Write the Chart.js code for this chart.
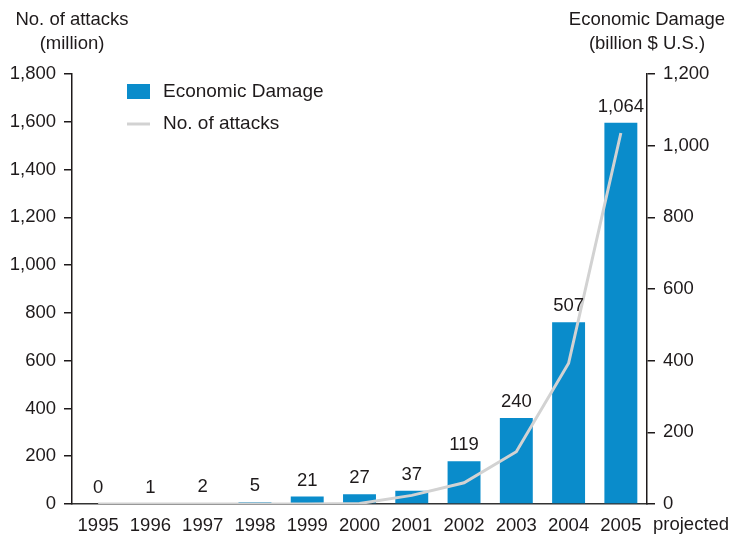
<!DOCTYPE html>
<html>
<head>
<meta charset="utf-8">
<script src="https://cdn.jsdelivr.net/npm/chart.js@4/dist/chart.umd.min.js"></script>
<style>
  html, body { margin: 0; padding: 0; background: #fff; }
  #wrap { width: 729px; height: 536px; position: relative; }
</style>
</head>
<body>
<div id="wrap"><canvas id="chart"></canvas></div>
<script>
const years = ['1995', '1996', '1997', '1998', '1999', '2000', '2001', '2002', '2003', '2004', '2005'];
// economic damage, billion $ U.S. (right axis)
const damage = [0, 1, 2, 5, 21, 27, 37, 119, 240, 507, 1064];
// number of attacks, million (left axis)
const attacks = [0, 0, 0, 0, 0, 2, 36, 89, 219, 589, 1553];
const leftTicks = [0, 200, 400, 600, 800, 1000, 1200, 1400, 1600, 1800];
const rightTicks = [0, 200, 400, 600, 800, 1000, 1200];

const FONT = '"Liberation Sans", Arial, Helvetica, sans-serif';
const INK = '#1e1a1b';
const BLUE = '#0a8ccb';
const GRAY = '#d2d2d2';
const SIZE = 18.5;

const fmt = v => Number(v).toLocaleString('en-US');

// titles, legend, value labels and the "projected" note
const decorations = {
  id: 'decorations',
  afterDraw(chart) {
    const ctx = chart.ctx;
    const area = chart.chartArea;
    ctx.save();
    ctx.font = '18.5px ' + FONT;
    ctx.fillStyle = INK;
    ctx.textAlign = 'center';
    ctx.textBaseline = 'middle';

    ctx.fillText('No. of attacks', area.left, 20);
    ctx.fillText('(million)', area.left, 44);
    ctx.fillText('Economic Damage', area.right, 20);
    ctx.fillText('(billion $ U.S.)', area.right, 44);

    ctx.font = SIZE + 'px ' + FONT;
    const bars = chart.getDatasetMeta(0).data;
    bars.forEach((bar, i) => {
      ctx.fillText(fmt(damage[i]), bar.x, bar.y - 16);
    });

    ctx.textAlign = 'left';
    ctx.fillText('projected', area.right + 6, 525);

    // legend
    ctx.font = '19px ' + FONT;
    ctx.fillStyle = BLUE;
    ctx.fillRect(127, 84, 23, 15);
    ctx.strokeStyle = GRAY;
    ctx.lineWidth = 3;
    ctx.beginPath();
    ctx.moveTo(127, 124);
    ctx.lineTo(150, 124);
    ctx.stroke();
    ctx.fillStyle = INK;
    ctx.fillText(chart.data.datasets[0].label, 163, 92);
    ctx.fillText(chart.data.datasets[1].label, 163, 124);
    ctx.restore();
  }
};

new Chart(document.getElementById('chart'), {
  data: {
    labels: years,
    datasets: [
      {
        type: 'bar',
        label: 'Economic Damage',
        data: damage,
        yAxisID: 'yRight',
        backgroundColor: BLUE,
        barPercentage: 0.63,
        categoryPercentage: 1,
        order: 2
      },
      {
        type: 'line',
        label: 'No. of attacks',
        data: attacks,
        yAxisID: 'yLeft',
        borderColor: GRAY,
        borderWidth: 3,
        pointRadius: 0,
        tension: 0,
        order: 1
      }
    ]
  },
  options: {
    responsive: true,
    maintainAspectRatio: false,
    animation: false,
    layout: { padding: { top: 74, left: 0, right: 0, bottom: 0 } },
    plugins: {
      legend: { display: false },
      tooltip: { enabled: false }
    },
    scales: {
      x: {
        grid: { display: false, drawTicks: false },
        border: { color: '#333', width: 1.5 },
        ticks: { color: INK, font: { family: FONT, size: SIZE }, padding: 11, maxRotation: 0, autoSkip: false },
        afterFit(scale) { scale.height = 32; }
      },
      yLeft: {
        position: 'left',
        min: 0,
        max: 1800,
        afterBuildTicks(scale) { scale.ticks = leftTicks.map(v => ({ value: v })); },
        grid: { drawOnChartArea: false, color: INK, tickLength: 8, lineWidth: 1.5 },
        border: { color: INK, width: 1.5 },
        ticks: { color: INK, font: { family: FONT, size: SIZE }, padding: 8, callback: fmt },
        afterFit(scale) { scale.width = 72; }
      },
      yRight: {
        position: 'right',
        min: 0,
        max: 1200,
        afterBuildTicks(scale) { scale.ticks = rightTicks.map(v => ({ value: v })); },
        grid: { drawOnChartArea: false, color: INK, tickLength: 8, lineWidth: 1.5 },
        border: { color: INK, width: 1.5 },
        ticks: { color: INK, font: { family: FONT, size: SIZE }, padding: 8, callback: fmt },
        afterFit(scale) { scale.width = 82; }
      }
    }
  },
  plugins: [decorations]
});
</script>
</body>
</html>
